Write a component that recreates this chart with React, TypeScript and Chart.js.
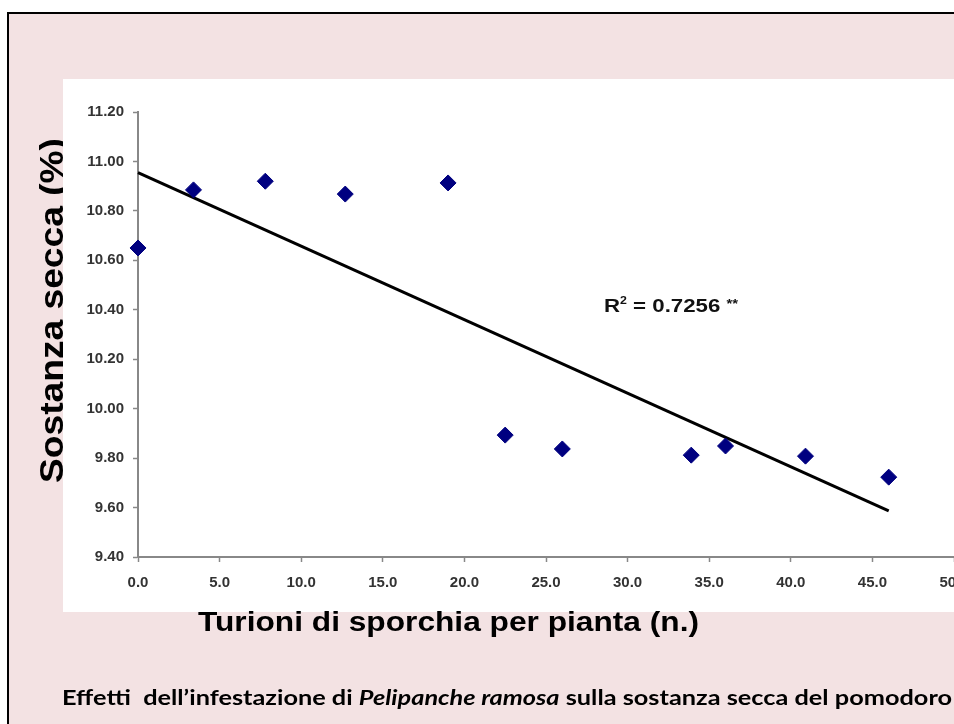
import React, { useEffect, useRef } from "react";
import { Chart, registerables } from "chart.js";

Chart.register(...registerables);

// ---- data ----
const infestation = [0, 3.4, 7.8, 12.7, 19.0, 22.5, 26.0, 33.9, 36.0, 40.9, 46.0];
const dryMatter = [10.65, 10.885, 10.92, 10.868, 10.913, 9.893, 9.837, 9.812, 9.849, 9.808, 9.723];
const trendX = [0, 46];
const trendY = [10.955, 9.587];
const xRange = [0, 50];
const xStep = 5;
const yRange = [9.4, 11.2];
const yStep = 0.2;
const yTitle = "Sostanza secca (%)";
const xTitle = "Turioni di sporchia per pianta (n.)";
const r2Value = "0.7256";
const r2Signif = "**";
const captionTexts = ["Effetti  dell’infestazione di ", "Pelipanche ramosa", " sulla sostanza secca del pomodoro"];
const captionItalic = [false, true, false];

const W = 954;
const H = 724;
const PINK = "#f3e2e3";
const ARIAL = '"Liberation Sans", Arial, sans-serif';
const CAPFONT = 'Lato, "Noto Sans", sans-serif';

type Part = { text: string; font: string; dy?: number };

function drawFitted(ctx: CanvasRenderingContext2D, parts: Part[], targetW: number) {
  let total = 0;
  const widths = parts.map((p) => {
    ctx.font = p.font;
    const w = ctx.measureText(p.text).width;
    total += w;
    return w;
  });
  const s = targetW / total;
  ctx.scale(s, 1);
  let cx = 0;
  parts.forEach((p, i) => {
    ctx.font = p.font;
    ctx.fillText(p.text, cx, p.dy || 0);
    cx += widths[i];
  });
}

const decor = {
  id: "decor",
  beforeDraw(chart: any) {
    const ctx: CanvasRenderingContext2D = chart.ctx;
    ctx.save();
    ctx.fillStyle = "#ffffff";
    ctx.fillRect(0, 0, W, H);
    ctx.fillStyle = PINK;
    ctx.fillRect(8, 13, W - 8, H - 13);
    ctx.strokeStyle = "#000";
    ctx.lineWidth = 2;
    ctx.beginPath();
    ctx.moveTo(8, H + 4);
    ctx.lineTo(8, 13);
    ctx.lineTo(W + 4, 13);
    ctx.stroke();

    // y title (rotated)
    ctx.save();
    ctx.fillStyle = "#000";
    ctx.textBaseline = "alphabetic";
    ctx.textAlign = "left";
    ctx.translate(63, 483);
    ctx.rotate(-Math.PI / 2);
    drawFitted(ctx, [{ text: yTitle, font: `bold 34px ${ARIAL}` }], 345);
    ctx.restore();

    // white panel
    ctx.fillStyle = "#ffffff";
    ctx.fillRect(63, 79, W - 63, 533);
    ctx.restore();
  },
  afterDraw(chart: any) {
    const ctx: CanvasRenderingContext2D = chart.ctx;
    ctx.save();
    ctx.fillStyle = "#000";
    ctx.textAlign = "left";
    ctx.textBaseline = "alphabetic";

    // x title
    ctx.save();
    ctx.translate(198, 631);
    drawFitted(ctx, [{ text: xTitle, font: `bold 27px ${ARIAL}` }], 501);
    ctx.restore();

    // R² annotation
    ctx.save();
    ctx.fillStyle = "#111";
    ctx.translate(604, 312);
    drawFitted(
      ctx,
      [
        { text: "R", font: `bold 18px ${ARIAL}` },
        { text: "2", font: `bold 10px ${ARIAL}`, dy: -8 },
        { text: " = " + r2Value + " ", font: `bold 18px ${ARIAL}` },
        { text: r2Signif, font: `bold 12px ${ARIAL}`, dy: -4 },
      ],
      134
    );
    ctx.restore();

    // caption
    ctx.save();
    ctx.translate(62, 705);
    drawFitted(
      ctx,
      captionTexts.map((t, i) => ({
        text: t,
        font: `${captionItalic[i] ? "italic " : ""}bold 20px ${CAPFONT}`,
      })),
      890
    );
    ctx.restore();

    ctx.restore();
  },
};

export default function App() {
  const ref = useRef<HTMLCanvasElement | null>(null);

  useEffect(() => {
    if (!ref.current) return;
    const tickFont = { family: ARIAL, size: 15, weight: "bold" as const };
    const chart = new Chart(ref.current, {
      type: "scatter",
      data: {
        datasets: [
          {
            label: "Sostanza secca",
            data: infestation.map((x, i) => ({ x, y: dryMatter[i] })),
            pointStyle: "rectRot",
            pointRadius: 8,
            pointHoverRadius: 8,
            backgroundColor: "#000080",
            borderColor: "#000080",
            borderWidth: 1,
            showLine: false,
            clip: false,
          } as any,
          {
            label: "Tendenza",
            data: trendX.map((x, i) => ({ x, y: trendY[i] })),
            showLine: true,
            borderColor: "#000000",
            borderWidth: 3,
            pointRadius: 0,
            pointHoverRadius: 0,
            fill: false,
            tension: 0,
            clip: false,
          } as any,
        ],
      },
      options: {
        responsive: false,
        animation: false,
        devicePixelRatio: 1,
        events: [],
        layout: { autoPadding: false, padding: { left: 80, top: 112, right: 0, bottom: 127 } },
        plugins: {
          legend: { display: false },
          tooltip: { enabled: false },
          title: { display: false },
        },
        scales: {
          x: {
            type: "linear",
            min: xRange[0],
            max: xRange[1],
            ticks: {
              stepSize: xStep,
              callback: (v: any) => Number(v).toFixed(1),
              font: tickFont,
              color: "#333",
              padding: 12,
              maxRotation: 0,
              autoSkip: false,
            },
            grid: {
              drawOnChartArea: false,
              drawTicks: true,
              tickLength: 5,
              color: "#888",
              tickWidth: 1.5,
            },
            border: { display: true, color: "#888", width: 2 },
            afterFit: (s: any) => {
              s.height = 40;
              s.paddingLeft = 0;
              s.paddingRight = 0;
            },
          },
          y: {
            type: "linear",
            min: yRange[0],
            max: yRange[1],
            ticks: {
              stepSize: yStep,
              callback: (v: any) => Number(v).toFixed(2),
              font: tickFont,
              color: "#333",
              padding: 9,
            },
            grid: {
              drawOnChartArea: false,
              drawTicks: true,
              tickLength: 5,
              color: "#888",
              tickWidth: 1.5,
            },
            border: { display: true, color: "#888", width: 2 },
            afterFit: (s: any) => {
              s.width = 58;
              s.paddingTop = 0;
              s.paddingBottom = 0;
            },
          },
        },
      } as any,
      plugins: [decor],
    });
    return () => chart.destroy();
  }, []);

  return (
    <div style={{ position: "absolute", left: 0, top: 0, width: W, height: H }}>
      <canvas ref={ref} width={W} height={H} style={{ display: "block", width: W, height: H }} />
    </div>
  );
}
